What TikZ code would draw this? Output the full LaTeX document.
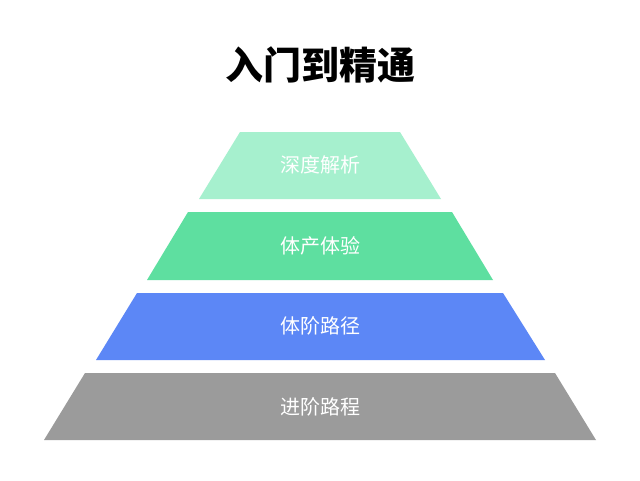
\documentclass[tikz,border=0pt]{standalone}
\usepackage{fontspec}
\newfontfamily\cjk{Noto Sans CJK SC}
\definecolor{deep}{RGB}{166,240,206}
\definecolor{product}{RGB}{94,223,160}
\definecolor{path}{RGB}{92,135,246}
\definecolor{base}{RGB}{155,155,155}
\tikzset{level/.style={fill=#1, draw=none}}
\tikzset{label/.style={text=white, font=\cjk\fontsize{20}{24}\selectfont}}
\begin{document}
\begin{tikzpicture}[x=1pt,y=-1pt]
  \useasboundingbox[fill=white] (0,0) rectangle (640,480);
  \node[font=\cjk\bfseries\fontsize{38}{44}\selectfont] (title) at (320,65) {入门到精通};

  \fill[level=deep] (240,132) -- (400,132) -- (441,199) -- (199,199) -- cycle;
  \fill[level=product] (188,212) -- (452,212) -- (493,280) -- (147,280) -- cycle;
  \fill[level=path] (137,293) -- (503,293) -- (545,360) -- (96,360) -- cycle;
  \fill[level=base] (85,373) -- (555,373) -- (596,440) -- (44,440) -- cycle;

  \node[label] (L1) at (320,165) {深度解析};
  \node[label] (L2) at (320,246) {体产体验};
  \node[label] (L3) at (320,326) {体阶路径};
  \node[label] (L4) at (320,407) {进阶路程};
\end{tikzpicture}
\end{document}
